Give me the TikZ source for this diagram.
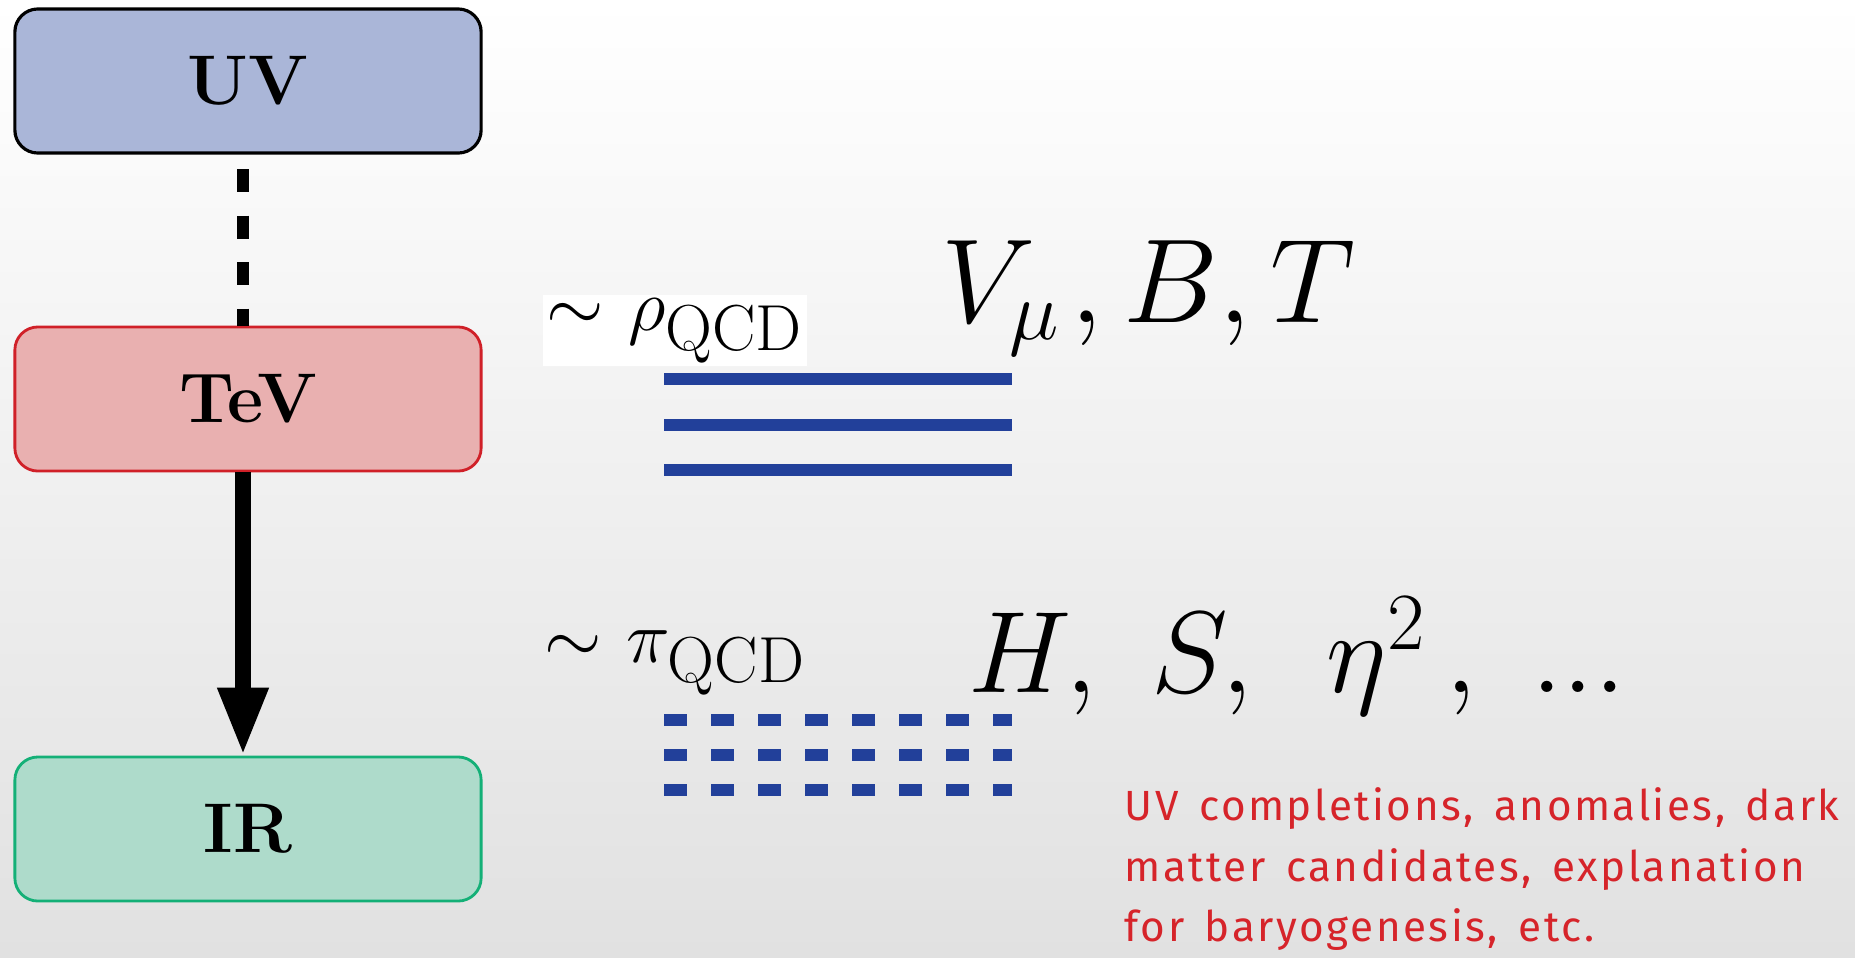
\RequirePackage{fix-cm}
\documentclass[tikz,border=0pt]{standalone}
\usepackage{fontspec}
\usetikzlibrary{arrows.meta,positioning}
\newfontfamily\handfont[WordSpace=1.5,LetterSpace=6]{Fira Sans}
\definecolor{uvfill}{RGB}{170,182,216}
\definecolor{tevfill}{RGB}{233,176,176}
\definecolor{tevline}{RGB}{208,32,40}
\definecolor{irfill}{RGB}{174,219,203}
\definecolor{irline}{RGB}{20,176,119}
\definecolor{levelblue}{RGB}{34,64,154}
\definecolor{notered}{RGB}{214,36,42}
\definecolor{bgbottom}{RGB}{225,225,225}

\begin{document}
\begin{tikzpicture}[x=0.01cm, y=-0.01cm,
    levelbox/.style={rectangle, draw=#1, rounded corners=0.23cm, minimum width=4.66cm, minimum height=1.44cm, inner sep=0pt, line width=0.8pt, font=\fontsize{20}{24}\selectfont\bfseries},
    dashlink/.style={line width=0.11cm, dash pattern=on 0.23cm off 0.235cm, dash phase=0.32cm},
    flow/.style={-{Triangle[length=0.68cm, width=0.47cm]}, line width=0.16cm},
    rholine/.style={line width=0.12cm, levelblue},
    piline/.style={rholine, dash pattern=on 0.23cm off 0.24cm},
    mass/.style={anchor=base west, inner sep=0pt}
  ]
    % Background
    \useasboundingbox (0,0) rectangle (1855,957);
    \shade[top color=white, bottom color=bgbottom] (0,0) rectangle (1855,957);

    % Scales
    \node[levelbox=black, fill=uvfill, line width=0.9pt] (uv) at (248,81) {UV};
    \node[levelbox=tevline, fill=tevfill] (tev) at (248,399) {TeV};
    \node[levelbox=irline, fill=irfill] (ir) at (248,829) {IR};

    \draw[dashlink] ([xshift=-0.05cm]uv.south) -- ([xshift=-0.05cm]tev.north);
    \draw[flow] ([xshift=-0.05cm]tev.south) -- ([xshift=-0.05cm]ir.north);

    % Resonances
    \node[mass, fill=white, inner sep=1pt] (rho) at (542,330) {\fontsize{21}{24}\selectfont$\sim\mkern1mu\rho_{\mbox{\fontsize{18.5}{20}\selectfont QCD}}$};
    \node[mass] (vec) at (941,322) {\fontsize{34}{40}\selectfont$V_\mu\mkern1.5mu, B, T$};
    \draw[rholine] (664,379) -- (1012,379);
    \draw[rholine] (664,425) -- (1012,425);
    \draw[rholine] (664,470) -- (1012,470);

    % Light states
    \node[mass] (pi) at (544,662) {\fontsize{21}{24}\selectfont$\sim\mkern1mu\pi_{\mbox{\fontsize{18.5}{20}\selectfont QCD}}$};
    \node[mass] (scal) at (968,692) {\fontsize{33}{40}\selectfont$H,\ S,\ \,\eta^2\,,\ ...$};
    \draw[piline] (664,720) -- (1012,720);
    \draw[piline] (664,755) -- (1012,755);
    \draw[piline] (664,790) -- (1012,790);

    % Note
    \node[anchor=north west, align=left, inner sep=0pt, text=notered, font=\handfont\fontsize{12}{17.2}\selectfont] (note) at (1124,787) {UV completions, anomalies, dark\\matter candidates, explanation\\for baryogenesis, etc.};
  \end{tikzpicture}
\end{document}
